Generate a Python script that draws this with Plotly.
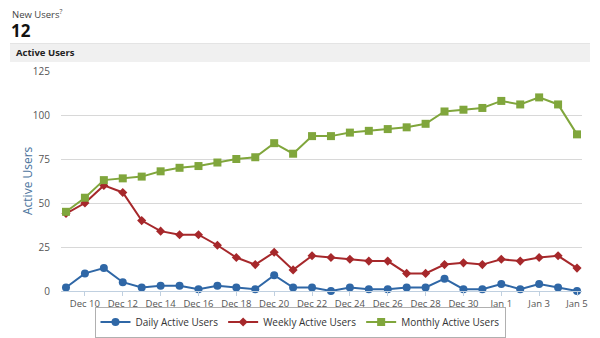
import plotly.graph_objects as go

dates = ["2012-12-09", "2012-12-10", "2012-12-11", "2012-12-12", "2012-12-13", "2012-12-14",
         "2012-12-15", "2012-12-16", "2012-12-17", "2012-12-18", "2012-12-19", "2012-12-20",
         "2012-12-21", "2012-12-22", "2012-12-23", "2012-12-24", "2012-12-25", "2012-12-26",
         "2012-12-27", "2012-12-28", "2012-12-29", "2012-12-30", "2012-12-31", "2013-01-01",
         "2013-01-02", "2013-01-03", "2013-01-04", "2013-01-05"]
daily = [2, 10, 13, 5, 2, 3, 3, 1, 3, 2, 1, 9, 2, 2, 0, 2, 1, 1, 2, 2, 7, 1, 1, 4, 1, 4, 2, 0]
weekly = [44, 50, 60, 56, 40, 34, 32, 32, 26, 19, 15, 22, 12, 20, 19, 18, 17, 17, 10, 10,
          15, 16, 15, 18, 17, 19, 20, 13]
monthly = [45, 53, 63, 64, 65, 68, 70, 71, 73, 75, 76, 84, 78, 88, 88, 90, 91, 92, 93, 95,
           102, 103, 104, 108, 106, 110, 106, 89]
y_ticks = [0, 25, 50, 75, 100, 125]

W, H = 600, 338
L, R, T, B = 61, 18, 71, 47
pw, ph = W - L - R, H - T - B

FONT = "Open Sans"

fig = go.Figure()
fig.add_trace(go.Scatter(x=dates, y=daily, name="Daily Active Users", mode="lines+markers",
                         line=dict(color="#2f67a6", width=2),
                         marker=dict(symbol="circle", size=8, color="#2f67a6"),
                         cliponaxis=False))
fig.add_trace(go.Scatter(x=dates, y=weekly, name="Weekly Active Users", mode="lines+markers",
                         line=dict(color="#a6282b", width=2),
                         marker=dict(symbol="diamond", size=7, color="#a6282b"),
                         cliponaxis=False))
fig.add_trace(go.Scatter(x=dates, y=monthly, name="Monthly Active Users", mode="lines+markers",
                         line=dict(color="#80a63c", width=2),
                         marker=dict(symbol="square", size=8, color="#80a63c"),
                         cliponaxis=False))

fig.update_layout(
    width=W, height=H,
    margin=dict(l=L, r=R, t=T, b=B, pad=0, autoexpand=False),
    paper_bgcolor="white", plot_bgcolor="white",
    font=dict(family=FONT, size=10, color="#555"),
    showlegend=True,
    legend=dict(orientation="h", xref="container", x=300 / W, xanchor="center",
                yref="container", y=1 - 322 / H, yanchor="middle",
                bordercolor="#b0b0b0", borderwidth=1, bgcolor="white",
                font=dict(family=FONT, size=10, color="#333"),
                itemwidth=30, tracegroupgap=0),
    xaxis=dict(type="date", range=["2012-12-08 17:40", "2013-01-05 06:20"],
               tick0="2012-12-10", dtick=2 * 86400000, tickformat="%b %-d",
               showgrid=False, zeroline=False,
               showline=True, linecolor="#c0d0e0", linewidth=1,
               ticks="outside", ticklen=4, tickcolor="#c0d0e0",
               tickfont=dict(family=FONT, size=9.5, color="#555"), fixedrange=True),
    yaxis=dict(range=[0, 125], tickvals=y_ticks, showgrid=True, gridcolor="#d8d8d8",
               gridwidth=1, zeroline=False, showline=False, ticks="",
               ticklabelstandoff=10,
               tickfont=dict(family=FONT, size=10, color="#555"), fixedrange=True),
)

def px_x(x):
    return (x - L) / pw

def px_y(y):
    return (T + ph - y) / ph

# header band
fig.add_shape(type="rect", xref="paper", yref="paper",
              x0=px_x(10), x1=px_x(590), y0=px_y(62), y1=px_y(43),
              fillcolor="#f0f0f0", line=dict(width=0), layer="below")
fig.add_shape(type="line", xref="paper", yref="paper",
              x0=px_x(10), x1=px_x(590), y0=px_y(43.5), y1=px_y(43.5),
              line=dict(color="#e4e4e4", width=1))

fig.add_annotation(text="New Users<sup>?</sup>", xref="paper", yref="paper",
                   x=px_x(10), y=px_y(14), xanchor="left", yanchor="middle",
                   showarrow=False, font=dict(family=FONT, size=9.5, color="#444"))
fig.add_annotation(text="<b>12</b>", xref="paper", yref="paper",
                   x=px_x(9), y=px_y(30), xanchor="left", yanchor="middle",
                   showarrow=False, font=dict(family=FONT, size=17, color="#111"))
fig.add_annotation(text="<b>Active Users</b>", xref="paper", yref="paper",
                   x=px_x(14), y=px_y(52.5), xanchor="left", yanchor="middle",
                   showarrow=False, font=dict(family=FONT, size=9.5, color="#222"))
fig.add_annotation(text="Active Users", xref="paper", yref="paper",
                   x=px_x(27), y=px_y(181), xanchor="center", yanchor="middle",
                   textangle=-90, showarrow=False,
                   font=dict(family=FONT, size=12, color="#4d759e"))

fig.write_html("out.html")
